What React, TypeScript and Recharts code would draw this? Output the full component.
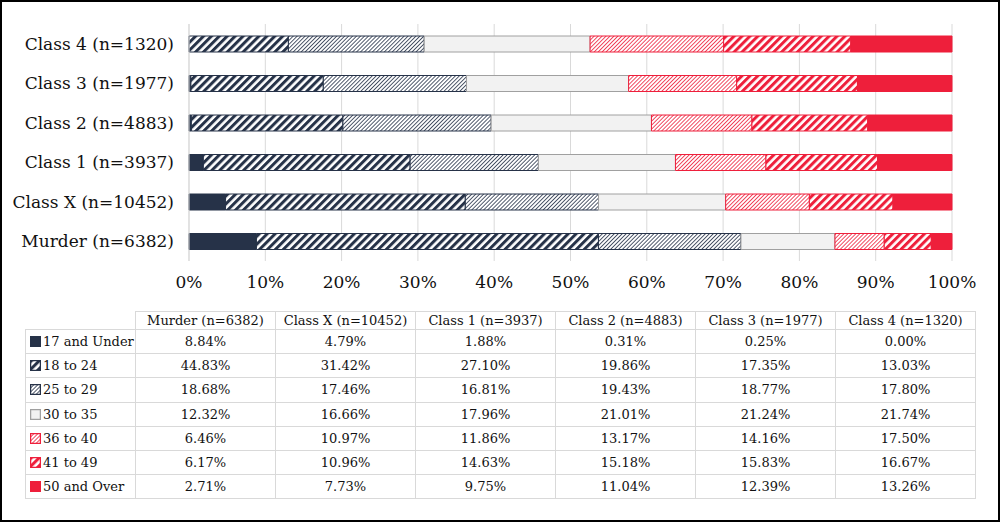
import { BarChart, Bar, XAxis, YAxis, CartesianGrid } from "recharts";

const categories = [
  "Murder (n=6382)",
  "Class X (n=10452)",
  "Class 1 (n=3937)",
  "Class 2 (n=4883)",
  "Class 3 (n=1977)",
  "Class 4 (n=1320)",
];

const ageGroups = [
  "17 and Under",
  "18 to 24",
  "25 to 29",
  "30 to 35",
  "36 to 40",
  "41 to 49",
  "50 and Over",
];

const under17 = [8.84, 4.79, 1.88, 0.31, 0.25, 0.0];
const age18to24 = [44.83, 31.42, 27.1, 19.86, 17.35, 13.03];
const age25to29 = [18.68, 17.46, 16.81, 19.43, 18.77, 17.8];
const age30to35 = [12.32, 16.66, 17.96, 21.01, 21.24, 21.74];
const age36to40 = [6.46, 10.97, 11.86, 13.17, 14.16, 17.5];
const age41to49 = [6.17, 10.96, 14.63, 15.18, 15.83, 16.67];
const over50 = [2.71, 7.73, 9.75, 11.04, 12.39, 13.26];

const seriesValues = [
  under17,
  age18to24,
  age25to29,
  age30to35,
  age36to40,
  age41to49,
  over50,
];

const xTicks = [0, 0.1, 0.2, 0.3, 0.4, 0.5, 0.6, 0.7, 0.8, 0.9, 1];

const NAVY = "#263248";
const RED = "#ee1f3b";

const seriesStyles = [
  { fill: NAVY, stroke: NAVY },
  { fill: "url(#navyWide)", stroke: NAVY },
  { fill: "url(#navyFine)", stroke: NAVY },
  { fill: "#f2f2f2", stroke: "#a0a0a0" },
  { fill: "url(#redFine)", stroke: RED },
  { fill: "url(#redWide)", stroke: RED },
  { fill: RED, stroke: RED },
];

const chartData = categories.map((name, i) => {
  const row: Record<string, number | string> = { name };
  ageGroups.forEach((g, j) => {
    row[g] = seriesValues[j][i];
  });
  return row;
});

const FONT = "'DejaVu Serif', serif";

function Stripes({
  id,
  color,
  period,
  line,
}: {
  id: string;
  color: string;
  period: number;
  line: number;
}) {
  return (
    <pattern
      id={id}
      patternUnits="userSpaceOnUse"
      width={period}
      height={period}
      patternTransform="rotate(45)"
    >
      <rect width={period} height={period} fill="#fff" />
      <rect width={line} height={period} fill={color} />
    </pattern>
  );
}

function Swatch({ idx }: { idx: number }) {
  const s = seriesStyles[idx];
  return (
    <svg width={11} height={11} style={{ verticalAlign: "-1px", marginRight: 2 }}>
      <rect x={0.5} y={0.5} width={10} height={10} fill={s.fill} stroke={s.stroke} strokeWidth={1.5} />
    </svg>
  );
}

const cellBorder = "1px solid #d9d9d9";

export default function App() {
  return (
    <div
      style={{
        position: "absolute",
        left: 0,
        top: 0,
        width: 1000,
        height: 522,
        boxSizing: "border-box",
        border: "2px solid #000",
        background: "#fff",
        fontFamily: FONT,
      }}
    >
      <div style={{ position: "absolute", left: -2, top: -2 }}>
        <BarChart
          width={1000}
          height={305}
          data={chartData}
          layout="vertical"
          stackOffset="expand"
          barSize={16}
          margin={{ top: 24, right: 48, left: 0, bottom: 0 }}
        >
          <defs>
            <Stripes id="navyWide" color={NAVY} period={5.6} line={3} />
            <Stripes id="navyFine" color={NAVY} period={2.8} line={0.8} />
            <Stripes id="redWide" color={RED} period={5.6} line={3} />
            <Stripes id="redFine" color={RED} period={2.8} line={0.8} />
          </defs>
          <CartesianGrid horizontal={false} stroke="#d9d9d9" />
          <XAxis
            type="number"
            domain={[0, 1]}
            ticks={xTicks}
            tickFormatter={(v: number) => `${Math.round(v * 100)}%`}
            axisLine={false}
            tickLine={false}
            tickSize={0}
            tickMargin={15}
            height={44}
            interval={0}
            tick={{ fill: "#111", fontSize: 17, fontFamily: FONT }}
          />
          <YAxis
            type="category"
            dataKey="name"
            reversed
            width={189}
            axisLine={{ stroke: "#d9d9d9" }}
            tickLine={false}
            tickMargin={9}
            interval={0}
            tick={{ fill: "#111", fontSize: 17, fontFamily: FONT }}
          />
          {ageGroups.map((g, j) => (
            <Bar
              key={g}
              dataKey={g}
              stackId="a"
              fill={seriesStyles[j].fill}
              stroke={seriesStyles[j].stroke}
              strokeWidth={1}
              isAnimationActive={false}
            />
          ))}
        </BarChart>
      </div>
      <table
        style={{
          position: "absolute",
          left: 23,
          top: 309,
          width: 950,
          borderCollapse: "collapse",
          tableLayout: "fixed",
          fontSize: 13,
          fontFamily: FONT,
          color: "#111",
        }}
      >
        <colgroup>
          <col style={{ width: 110 }} />
          {categories.map((c) => (
            <col key={c} style={{ width: 140 }} />
          ))}
        </colgroup>
        <thead>
          <tr style={{ height: 18 }}>
            <th style={{ padding: 0 }} />
            {categories.map((c) => (
              <th
                key={c}
                style={{ border: cellBorder, fontWeight: 400, padding: 0, lineHeight: "16px" }}
              >
                {c}
              </th>
            ))}
          </tr>
        </thead>
        <tbody>
          {ageGroups.map((g, j) => (
            <tr key={g} style={{ height: 24.2 }}>
              <td style={{ border: cellBorder, padding: "0 0 0 4px", whiteSpace: "nowrap" }}>
                <Swatch idx={j} />
                {g}
              </td>
              {categories.map((c, i) => (
                <td key={c} style={{ border: cellBorder, textAlign: "center", padding: 0 }}>
                  {seriesValues[j][i].toFixed(2)}%
                </td>
              ))}
            </tr>
          ))}
        </tbody>
      </table>
    </div>
  );
}
